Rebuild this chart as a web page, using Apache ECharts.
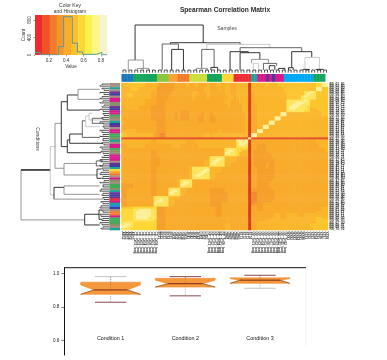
<!DOCTYPE html>
<html><head><meta charset="utf-8">
<style>html,body{margin:0;padding:0;background:#fff}#c{width:387px;height:360px;filter:blur(0.4px)}</style>
<script src="https://cdn.jsdelivr.net/npm/echarts@6/dist/echarts.min.js"></script>
</head><body><div id="c"></div>
<script>
var heatLevels = ['#dc3d22','#e4552a','#f08c2e','#f6a02c','#f9ab2b','#fab62c','#fcc42e','#fed838','#fee45c','#fdf09a'];
var keyBreaks = [0.04,0.12,0.21,0.29,0.37,0.455,0.54,0.62,0.70,0.79,0.87];
var keyColors = ['#ee2a2e','#f0522a','#f27a2a','#f5962b','#f9ad2b','#fbc02d','#fdd835','#fff04a','#fdf68a','#f6f3cf'];
var histBreaks = [0.04,0.10,0.31,0.37,0.47,0.53,0.59,0.75,0.81,0.87];
var histCounts = [60,5,190,875,270,70,15,60,5];
var matrixRows = [
'5566666655 5543333344 4454454445 4455455445 5550555556 5556666666 6666667799',
'5666666655 5543333344 4454454445 4455455445 5550555556 5556666666 6666667799',
'5556665555 5533333344 4444444455 4445455445 5550555555 5555566666 6666669966',
'5556665555 5533333344 4444444455 4445455445 5550555555 5555566666 6666669966',
'5555555555 4433333444 4444554445 4444455445 5550455555 5555556666 6688986666',
'5566555555 4433333444 4444554445 4444455445 5550455555 5555556666 6689886666',
'5566555555 4433334444 4444544445 4444445545 5550455555 5555556666 6898886666',
'5555555555 4433334444 4444544445 4444445545 5550455555 5555556666 6888886666',
'5555555544 4433344444 4444444444 4444455444 5550455555 5555558888 8898666666',
'5555555544 4433344444 4444444444 4444455444 5550455555 5555558889 9988666666',
'5555555544 4433344444 4444444444 4444445444 4550445555 5555558899 9888666666',
'4555554444 3333344444 4444444444 4444445444 4550445555 5555558999 8887666666',
'4555554444 3333344444 4444444444 4444444444 4550445555 5555558998 8887556666',
'4444444444 3333344444 3334444444 4444444444 4550445555 5555558888 8877555666',
'4444444444 3333344434 3334444344 3444444444 4450445555 5555995555 5555555566',
'4444444444 3333344434 3334444344 3444444444 4450445555 5555995555 5555555566',
'4444444444 3333344434 3334443344 3344444444 4450445555 5599555555 5555555555',
'4444444444 3333344434 3334443344 3344444444 4450445555 5599555555 5555555555',
'5444444444 4433344444 4444443344 3344444444 4450445555 9955555555 5555555555',
'5444444444 4433344444 4444444444 4444444444 4450445555 9955555555 5555555555',
'4444444444 4433344444 4444444444 4444444444 4450445599 5555555555 5555555555',
'4444444444 4433344444 4444444444 4444444444 4450445599 5555555555 5555555555',
'5555544444 4433344444 4444444444 4445444444 4450449955 5555555555 5555555555',
'5555544444 4433344444 4444444444 4445444444 4450449955 5555555555 5555555555',
'6655555555 5332244444 4444444455 4555555555 5550995555 5555555555 5555555555',
'6655555555 5332244444 4444444455 4555555555 5550995555 5555555555 5555555555',
'1111111111 1111111111 1111111111 1111111111 1119111111 1111111111 1111111111',
'5555555555 4455555555 5544455555 5555555559 9890444444 4444444444 4444445555',
'5555555555 4455555555 5544455555 5555555558 9990444444 4444444444 4444445555',
'4455555544 4444444555 4444445555 5555555558 9980443334 4444444444 4444444555',
'4455555544 4444444555 4444445555 5555555558 8880443334 4444444444 4444444555',
'4444444444 4444444444 4444444444 4444488887 7770443334 4444444444 4444444445',
'4444444444 3344444444 4444444444 4444489987 7550433334 4444444444 4444444445',
'4444444444 3344444444 4444444444 4444499887 5550433333 4444444444 4444444444',
'4444444444 3344444444 4444444444 4444488887 5550433333 3444444444 4444444444',
'4444444444 3334444444 4444444444 8888855554 4440433333 3444444444 4444444444',
'4444444444 3334444444 4444444445 8899855554 4440433333 3344444444 4444444444',
'4444444444 3334444444 4444444455 8998855554 4440433333 3344444444 4444444444',
'4444444444 3334444444 4444444455 9988855444 4440433334 3344444444 4444444444',
'4444444444 3334444444 4444444455 8888855444 4440433334 3344444444 4444444444',
'4444444444 3344444444 4445888888 5555444444 4440443334 3344444444 4444444444',
'4444444444 3344444444 4445888899 5555444444 4440443333 3344444444 4444444444',
'4444444444 3344444444 4445888998 5555444444 4440443333 3344444444 4444444444',
'4444444444 3344444444 4445889988 5544444444 4440443333 3344444444 4444444444',
'4444444444 3344444444 4445899888 5544444444 4440443333 3344444444 4444444444',
'4444444444 3344444444 4445888888 5544444444 4440443333 3344444444 4444444444',
'4444444444 3344444445 8888444444 4444444444 4440443333 3444444444 4444444444',
'4444444444 3344444445 8998444444 4444444444 4440443333 4444444444 4444444444',
'3333444444 3344444445 9988444444 4444444444 4440443333 4444444444 4444444444',
'3333444444 3344444445 8888444444 4444444444 4440443333 4444444444 4444444444',
'3344444444 3344448888 5544444444 3333344444 4440333333 3444444444 4444444444',
'3344444444 3344448998 5544444444 3333344444 4440333333 3344444444 4444444444',
'3344444444 3344449988 5544444444 3333334444 4440223333 3344444444 4444444444',
'3344444444 3344448888 5444444444 3333334444 4440223333 3344444444 4444444444',
'3344444444 4888885555 4444444444 3333334444 4440223333 3344444444 4444444444',
'3344444444 4889885544 4444444444 3333334444 4440223333 3344444444 4444444444',
'3344444444 4899885544 4444444444 3333334444 4440223333 3444444444 4444444444',
'3344444444 4988885544 4444444444 3333444444 4440233344 4444444444 4444444444',
'3344444444 4888885544 4444444444 3333444444 4440333344 4444444444 4444444444',
'6666777777 7733344444 4444444444 4433444444 4440443344 4444444444 4444444455',
'7777889999 8833344444 4444444444 4433444444 4440443344 4444444444 4444444455',
'7777899999 8833344444 4444444444 4433444444 4440444444 4444444444 4444445555',
'7777899999 8833344444 4444444444 4433444444 4440444444 4455445555 4455555555',
'7777899999 8833344444 4444444444 4433444444 4440444444 4455445555 4455555555',
'7777899998 8833344444 4444444444 4444444444 4440444444 4555445555 5555556655',
'7777888888 8733344444 4444444444 4444444444 4440444445 5555555555 5555556666',
'8888777777 7733344444 4444444444 4444444444 4440445555 5555555555 5555556666',
'8998777777 7733344444 4444444444 4444455444 4440445555 5555555555 5555666666',
'9988777777 7733344444 4444444444 4444455444 4440445555 5555555555 5555666666',
'8887777777 7733344444 4444444444 4444455444 4440445555 5555555555 5555566666'
];
var groupColors = {b:'#1b75bb',g:'#16a55c',l:'#8cc63f',o:'#f7a233',r:'#f37a2c',y:'#cddc39',w:'#fdd835',e:'#ee2a33',t:'#1aa59a',m:'#d81b8c',p:'#6a2f9a',i:'#3b3fa0',s:'#03a9f4',n:'#a58f80',v:'#8a8f6a',u:'#2a8be0',k:'#43a857'};
var topBarGroups = 'bbbbggggggggllllooorrrryyyyyygggggwwwweeeeeettmmmpmimmmssssssssssgggg';
var leftBarGroups = 'nntnpinmmvvpimmkvntipnmmkkvtnmmkvvmmmnpitwornmvnkkvtpipemtuinrrmkkkvnt';
var columnLabels = ['AB12','AB13','AB14','AB15','CD_Ctl01_long','CD_Ctl02_long','CD_Ctl03_long','CD_Ctl04_long','CD_Ctl05_long','CD_Ctl06_long','CD_Ctl07_long','CD_Ctl08_long','EF21','EF22','EF23','EF24','EF25','GH31','GH32','GH33','GH34','GH35','JK41','JK42','JK43','JK44','LM51','LM52','LM53','NP_Trt01_long','NP_Trt02_long','NP_Trt03_long','NP_Trt04_long','NP_Trt05_long','NP_Trt06_long','QR61','QR62','QR63','QR64','QR65','ST71','ST72','ST73','ST74','UV_Trt01_long','UV_Trt02_long','UV_Trt03_long','UV_Trt04_long','UV_Trt05_long','UV_Trt06_long','UV_Trt07_long','UV_Trt08_long','UV_Trt09_long','UV_Trt10_long','UV_Trt11_long','UV_Trt12_long','WX81','WX82','WX83','WX84','WX85','WX86','YZ91','YZ92','YZ93','YZ94','YZ95','YZ96','YZ97','YZ98'];
var rowLabels = ['RS_01_A1','RS_02_A1','RS_03_A2','RS_04_A1','RS_05_B1','RS_06_B1','RS_07_B2','RS_08_B3','RS_09_A1','RS_10_C1','RS_11_C2','RS_12_C1','RS_13_C1','RS_14_D1','RS_15_D1','RS_16_D2','RS_17_A1','RS_18_A1','RS_19_E1','RS_20_E1','RS_21_E2','RS_22_F1','RS_23_F1','RS_24_F2','RS_25_F2','RS_26_G1','RS_27_G1','RS_28_G1','RS_29_H1','RS_30_H2','RS_31_H2','RS_32_H3','RS_33_J1','RS_34_J1','RS_35_J2','RS_36_J3','RS_37_K1','RS_38_K1','RS_39_K2','RS_40_L1','RS_41_L1','RS_42_L2','RS_43_L2','RS_44_M1','RS_45_M1','RS_46_M2','RS_47_N1','RS_48_N1','RS_49_N2','RS_50_P1','RS_51_P1','RS_52_P2','RS_53_Q1','RS_54_Q2','RS_55_Q1','RS_56_R1','RS_57_R1','RS_58_R2','RS_59_S1','RS_60_S1','RS_61_S2','RS_62_T1','RS_63_T1','RS_64_T2','RS_65_U1','RS_66_U1','RS_67_U2','RS_68_V1','RS_69_V1','RS_70_V2'];
var treeColors = {k:'#1e1e1e',d:'#555555',g:'#8a8a8a',l:'#c4c4c4'};
var topTree = [
 [4.6,27.7,47.7,12.7,30,'k'],[2.3,7.4,12.7,2.7,4.3,'g'],[5.4,9.3,4.3,2.7,2.7,'g'],
 [16.6,40.2,30,28.7,28.3,'k'],[28.9,40.2,30,30,28.3,'g'],[13.8,19.3,28.7,2.7,23.3,'d'],[17,21,23.3,2.7,2.7,'k'],
 [28.9,50.3,28.3,23.3,25,'l'],[27.2,31.4,23.3,4.3,5.3,'d'],[25.4,29.1,4.3,2.7,2.7,'g'],[30.3,32.6,5.3,2.7,2.7,'k'],
 [40.2,61.1,25,21,21,'d'],[36.8,43,21,2.7,20,'k'],[40.2,46.9,20,2.7,13.3,'k'],[44.1,49.8,13.3,9.3,9.3,'g'],
 [44.7,46.4,9.3,2.7,2.7,'l'],[48.1,52.6,9.3,2.7,7,'d'],[50.1,52,7,2.7,2.7,'k'],[53.2,55.4,4.3,2.7,2.7,'k'],
 [57.7,64.5,21,5,15.3,'k'],[56.6,58.2,5,2.7,2.7,'k'],[62.2,67.1,15.3,3.3,3.3,'l'],[61.6,63.7,3.3,2.7,2.7,'k'],[65.9,68.4,3.3,2.7,2.7,'k']
];
var leftTree = [
 [41.4,65.2,88,58.7,24.3,'g'],[41.4,41.4,88,58.7,58.7,'k'],[30.3,53.3,58.7,54,55,'l'],[19.2,40.6,54,47.7,45,'g'],
 [8.9,30.3,47.7,41.7,41.7,'k'],[5.7,12.9,41.7,31,9.3,'k'],[3,7.8,31,9.3,9.3,'g'],[27.1,33.2,41.7,39.3,7.7,'k'],
 [24.3,28.7,39.3,26.7,6,'k'],[18,25.9,26.7,23.3,9.3,'d'],[15.7,20.8,23.3,20,9.3,'l'],[14.4,17.6,20,16.7,6,'l'],[16.8,19.2,16.7,6,6,'d'],
 [38.3,43.8,45,12.7,12,'g'],[37.1,39.5,12.7,6,6,'d'],[41,45.4,12,7.7,7.7,'k'],
 [49.7,55.4,55,45,6,'k'],[55.4,55.4,55,6,6,'l'],[49,53,45,9.3,9.3,'g'],[62.5,67.6,24.3,10,9.3,'k'],[60.5,64.9,10,7,7,'k']
];
var topLeafHeights = [2.7,2.7,2.5,2.7,2.7,2.5,2.7,2.7,2.5,2.7,2.7,2.5,2.7,2.7,2.5,2.7,2.7,2.5,2.7,2.7,2.5,2.7,2.7,2.5,2.7,2.7,2.5,2.7,2.7,2.5,2.7,2.7,2.5,2.7,2.7,2.5,2.7,2.7,2.5,2.7,2.7,2.5,2.7,2.7,2.5,2.7,2.7,2.5,2.7,2.7,2.5,2.7,2.7,2.5,2.7,2.7,2.5,2.7,2.7,2.5,2.7,2.7,2.5,2.7,2.7,2.5,2.7,2.7,2.5,2.7];
var leftLeafDepths = [7,9,7,5,9,5,7,9,6,9,5,7,9,6,6,5,7,6,9,6,6,5,9,7,6,9,6,6,7,5,9,7,8,6,5,7,9,8,6,9,7,6,8,9,6,7,5,9,6,6,8,9,6,7,6,5,8,6,8,9,7,6,9,8,6,7,9,7,6,8];
var boxCategories = ['Condition 1','Condition 2','Condition 3'];
var whiskerHigh = [0.980,0.980,0.988];
var upperHinge = [0.947,0.970,0.973];
var medians = [0.901,0.938,0.959];
var lowerHinge = [0.875,0.918,0.940];
var whiskerLow = [0.828,0.866,0.911];
var notchWaist = [0.56,0.58,0.67];
var yTicksBox = [0.6,0.8,1.0];

var matrixData=[];
matrixRows.forEach(function(s,r){s.replace(/ /g,'').split('').forEach(function(ch,c){matrixData.push([c,r,+ch]);});});
var idx70=columnLabels.map(function(_,i){return i;});
function seg(api,pts,col,w,extra){return {type:'polyline',shape:{points:pts.map(function(p){return api.coord(p);})},style:Object.assign({stroke:col,fill:null,lineWidth:w},extra||{}),silent:true};}
function sideLabel(){return {fontSize:3.1,fontWeight:'bold',color:'#333',fontFamily:'Liberation Sans',margin:1.5};}
function hiddenValue(gi,min,max,inv){return {type:'value',gridIndex:gi,min:min,max:max,inverse:!!inv,show:false};}
var keySteps=[];histCounts.forEach(function(c,i){keySteps.push([histBreaks[i],c]);keySteps.push([histBreaks[i+1],c]);});

var option={animation:false,backgroundColor:'#fff',
 textStyle:{fontFamily:'Liberation Sans'},
 grid:[
  {left:121.5,top:83,width:206.5,height:147},
  {left:121.5,top:22.7,width:206.5,height:50},
  {left:121.5,top:74,width:206.5,height:7.8},
  {left:21,top:83,width:88,height:147},
  {left:109.3,top:83,width:10.7,height:147},
  {left:35,top:15,width:72,height:40},
  {left:64.3,top:267.7,width:242,height:87.3}
 ],
 xAxis:[
  {type:'category',gridIndex:0,data:columnLabels,axisLine:{show:false},axisTick:{show:false},axisLabel:Object.assign(sideLabel(),{rotate:-90,interval:0}),splitLine:{show:false}},
  hiddenValue(1,0,70),hiddenValue(2,0,70),hiddenValue(3,0,88,true),hiddenValue(4,0,1),
  {type:'value',gridIndex:5,min:0.04,max:0.87,splitLine:{show:false},axisLine:{show:false},axisTick:{length:1.5,lineStyle:{color:'#444',width:.5},customValues:[0.2,0.4,0.6,0.8]},axisLabel:{fontSize:4.6,color:'#333',margin:3,customValues:[0.2,0.4,0.6,0.8],formatter:function(v){return v.toFixed(1);}},name:'Value',nameLocation:'middle',nameGap:9,nameTextStyle:{fontSize:4.6,color:'#333'}},
  {type:'value',gridIndex:6,min:0.38,max:3.62,splitLine:{show:false},axisLine:{show:false},axisTick:{show:false},axisLabel:{show:false}}
 ],
 yAxis:[
  {type:'category',gridIndex:0,inverse:true,position:'right',data:rowLabels,axisLine:{show:false},axisTick:{show:false},axisLabel:Object.assign(sideLabel(),{interval:0}),splitLine:{show:false}},
  hiddenValue(1,0,50),hiddenValue(2,0,1),hiddenValue(3,0,70,true),hiddenValue(4,0,70,true),
  {type:'value',gridIndex:5,min:0,max:914,interval:400,splitLine:{show:false},axisLine:{show:false},axisTick:{length:1.5,lineStyle:{color:'#444',width:.5}},axisLabel:{fontSize:4.6,color:'#333',margin:3,rotate:90,showMaxLabel:false},name:'Count',nameLocation:'middle',nameGap:8,nameTextStyle:{fontSize:4.6,color:'#333'}},
  {type:'value',gridIndex:6,min:0.515,max:1.033,splitLine:{show:false},axisLine:{show:true,lineStyle:{color:'#111',width:1}},axisTick:{show:true,length:3,lineStyle:{color:'#333',width:.6},customValues:yTicksBox},axisLabel:{fontSize:4.6,color:'#222',margin:5,customValues:yTicksBox,formatter:function(v){return v.toFixed(1);}}}
 ],
 visualMap:{show:false,seriesIndex:0,min:0,max:9,inRange:{color:heatLevels}},
 series:[
  {type:'heatmap',xAxisIndex:0,yAxisIndex:0,data:matrixData,silent:true,itemStyle:{borderWidth:0},progressive:0},
  {type:'custom',xAxisIndex:1,yAxisIndex:1,silent:true,data:topTree,renderItem:function(p,api){var d=topTree[p.dataIndex];return seg(api,[[d[0],d[3]],[d[0],d[2]],[d[1],d[2]],[d[1],d[4]]],treeColors[d[5]],.9);},encode:{x:0,y:2}},
  {type:'custom',xAxisIndex:1,yAxisIndex:1,silent:true,data:idx70,renderItem:function(p,api){var i=p.dataIndex,h=topLeafHeights[i];var j=i%2?i-1:i+1;j=Math.min(j,69);return seg(api,[[i+.5,0],[i+.5,h],[(i+j)/2+.5,h]],'#222',.8);},encode:{x:0}},
  {type:'custom',xAxisIndex:2,yAxisIndex:2,silent:true,data:idx70,renderItem:function(p,api){var i=p.dataIndex;var a=api.coord([i,1]),b=api.coord([i+1,0]);return {type:'rect',shape:{x:a[0],y:a[1],width:b[0]-a[0]+.4,height:b[1]-a[1]},style:{fill:groupColors[topBarGroups[i]]}};},encode:{x:0}},
  {type:'custom',xAxisIndex:3,yAxisIndex:3,silent:true,data:leftTree,renderItem:function(p,api){var d=leftTree[p.dataIndex];return seg(api,[[d[3],d[0]],[d[2],d[0]],[d[2],d[1]],[d[4],d[1]]],treeColors[d[5]],.9);},encode:{x:2,y:0}},
  {type:'custom',xAxisIndex:3,yAxisIndex:3,silent:true,data:idx70,renderItem:function(p,api){var i=p.dataIndex,h=leftLeafDepths[i];var j=i%2?i-1:i+1;j=Math.min(j,69);return seg(api,[[0,i+.5],[h,i+.5],[h,(i+j)/2+.5]],'#222',.8);},encode:{y:0}},
  {type:'custom',xAxisIndex:4,yAxisIndex:4,silent:true,data:idx70,renderItem:function(p,api){var i=p.dataIndex;var a=api.coord([0,i]),b=api.coord([1,i+1]);return {type:'rect',shape:{x:a[0],y:a[1],width:b[0]-a[0],height:b[1]-a[1]+.3},style:{fill:groupColors[leftBarGroups[i]]||'#a58f80'}};},encode:{y:0}},
  {type:'custom',xAxisIndex:5,yAxisIndex:5,silent:true,data:keyColors,renderItem:function(p,api){var i=p.dataIndex;var a=api.coord([keyBreaks[i],914]),b=api.coord([keyBreaks[i+1],0]);return {type:'rect',shape:{x:a[0],y:a[1],width:b[0]-a[0]+.3,height:b[1]-a[1]},style:{fill:keyColors[i]}};}},
  {type:'line',xAxisIndex:5,yAxisIndex:5,data:keySteps,symbol:'none',silent:true,lineStyle:{color:'#5a9a9c',width:1},z:5},
  {type:'custom',xAxisIndex:6,yAxisIndex:6,silent:true,z:5,data:boxCategories,renderItem:function(p,api){
    var i=p.dataIndex,c=i+1,hw=.4,nw=hw*notchWaist[i],cw=.21;
    var up=upperHinge[i],med=medians[i],lo=lowerHinge[i],wh=whiskerHigh[i],wl=whiskerLow[i];
    var shape=[[c-hw,up],[c+hw,up],[c+hw,up-(up-med)*.35],[c+nw,med],[c+hw,lo],[c-hw,lo],[c-nw,med],[c-hw,up-(up-med)*.35]];
    var pale='#c9c2c2',brown='#8a4a52';
    return {type:'group',children:[
      seg(api,[[c,wh],[c,wl]],'#8c7a7a',.6,{lineDash:[1.2,1.2]}),
      {type:'polygon',shape:{points:shape.map(function(q){return api.coord(q);})},style:{fill:'#f5973c',stroke:'#ef8e30',lineWidth:.6}},
      seg(api,[[c-hw,lo],[c-nw,med]],'#8a4a32',.7),seg(api,[[c+hw,lo],[c+nw,med]],'#8a4a32',.7),
      seg(api,[[c,wh],[c,med]],'#8c6a5a',.5,{lineDash:[1.2,1.2]}),
      seg(api,[[c-nw,med],[c+nw,med]],'#7a2a18',1),
      seg(api,[[c-cw,wh],[c+cw,wh]],i===0?pale:brown,1),
      seg(api,[[c-cw,wl],[c+cw,wl]],i===2?pale:brown,1),
      {type:'text',style:{text:boxCategories[i],x:api.coord([c,0.61])[0],y:api.coord([c,0.61])[1],align:'center',verticalAlign:'middle',fontSize:5.4,fontFamily:'Liberation Sans',fill:'#111'}}
    ]};
  }}
 ],
 graphic:[
  {type:'text',x:225,y:10,style:{text:'Spearman Correlation Matrix',align:'center',verticalAlign:'middle',fontSize:6.6,fontWeight:'bold',fontFamily:'Liberation Sans',fill:'#2a2a2a'}},
  {type:'text',x:227,y:29,style:{text:'Samples',align:'center',verticalAlign:'middle',fontSize:5,fontFamily:'Liberation Sans',fill:'#444'}},
  {type:'text',x:70,y:6,style:{text:'Color Key',align:'center',verticalAlign:'middle',fontSize:5,fontFamily:'Liberation Sans',fill:'#333'}},
  {type:'text',x:70,y:12,style:{text:'and Histogram',align:'center',verticalAlign:'middle',fontSize:5,fontFamily:'Liberation Sans',fill:'#333'}},
  {type:'text',x:37,y:139,rotation:-Math.PI/2,style:{text:'Conditions',align:'center',verticalAlign:'middle',fontSize:5,fontFamily:'Liberation Sans',fill:'#444'}},
  {type:'line',shape:{x1:64.3,y1:267.7,x2:306,y2:267.7},style:{stroke:'#111',lineWidth:1}},
  {type:'line',shape:{x1:305.7,y1:268,x2:305.7,y2:346},style:{stroke:'#eeeeee',lineWidth:.8}}
 ]
};
echarts.init(document.getElementById('c'),null,{renderer:'canvas'}).setOption(option);
</script></body></html>
